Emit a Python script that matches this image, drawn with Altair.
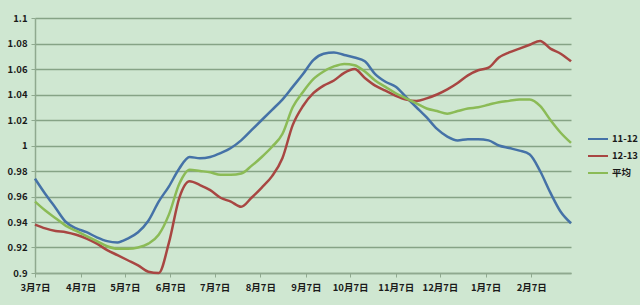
import altair as alt
import pandas as pd

# weekly dates, 2012-03-07 .. 2013-03-06
dates = [d.strftime("%Y-%m-%d") for d in pd.date_range("2012-03-07", periods=53, freq="7D")]

series_names = ["11-12", "12-13", "平均"]

s_1112 = [0.974, 0.962, 0.951, 0.940, 0.935, 0.932, 0.928, 0.925, 0.924, 0.927,
          0.932, 0.941, 0.956, 0.968, 0.982, 0.991, 0.990, 0.991, 0.994, 0.998,
          1.004, 1.012, 1.020, 1.028, 1.036, 1.046, 1.056, 1.067, 1.072, 1.073,
          1.071, 1.069, 1.066, 1.056, 1.050, 1.046, 1.038, 1.030, 1.022, 1.013,
          1.007, 1.004, 1.005, 1.005, 1.004, 1.000, 0.998, 0.996, 0.993, 0.980,
          0.963, 0.948, 0.939]

s_1213 = [0.938, 0.935, 0.933, 0.932, 0.930, 0.927, 0.923, 0.918, 0.914, 0.910,
          0.906, 0.901, 0.900, 0.924, 0.959, 0.972, 0.969, 0.965, 0.959, 0.956,
          0.952, 0.959, 0.967, 0.976, 0.990, 1.016, 1.031, 1.041, 1.047, 1.051,
          1.057, 1.060, 1.053, 1.047, 1.043, 1.039, 1.036, 1.035, 1.037, 1.040,
          1.044, 1.049, 1.055, 1.059, 1.061, 1.069, 1.073, 1.076, 1.079, 1.082,
          1.076, 1.072, 1.066]

s_avg = [0.956, 0.949, 0.943, 0.937, 0.933, 0.929, 0.925, 0.921, 0.919, 0.919,
         0.920, 0.923, 0.930, 0.946, 0.970, 0.981, 0.980, 0.979, 0.977, 0.977,
         0.978, 0.984, 0.991, 0.999, 1.009, 1.030, 1.042, 1.052, 1.058, 1.062,
         1.064, 1.063, 1.058, 1.051, 1.046, 1.041, 1.037, 1.033, 1.029, 1.027,
         1.025, 1.027, 1.029, 1.030, 1.032, 1.034, 1.035, 1.036, 1.036, 1.031,
         1.020, 1.010, 1.002]

y_ticks = [0.9, 0.92, 0.94, 0.96, 0.98, 1.0, 1.02, 1.04, 1.06, 1.08, 1.1]
month_ticks = [(2012, m) for m in range(3, 13)] + [(2013, 1), (2013, 2)]

colors = ["#4572a7", "#a84642", "#8bbb56"]

rows = []
for name, vals in zip(series_names, [s_1112, s_1213, s_avg]):
    for d, v in zip(dates, vals):
        rows.append({"date": d, "value": v, "series": name})
df = pd.DataFrame(rows)

FONT = "Noto Sans CJK SC"

chart = alt.Chart(df).mark_line(strokeWidth=2.5, interpolate="monotone").encode(
    x=alt.X("date:T",
            scale=alt.Scale(type="utc",
                            domain=[alt.DateTime(year=2012, month=3, date=7, utc=True),
                                    alt.DateTime(year=2013, month=3, date=6, utc=True)]),
            axis=alt.Axis(values=[alt.DateTime(year=y, month=m, date=7, utc=True) for y, m in month_ticks],
                          labelExpr="(utcmonth(datum.value)+1) + '月' + utcdate(datum.value) + '日'",
                          labelOverlap=False, labelFlush=False,
                          title=None, grid=False, domainColor="#8fa98f", domainWidth=1.5,
                          tickColor="#8fa98f", tickSize=4, labelPadding=5,
                          labelFont=FONT, labelFontSize=9.5, labelColor="#1a1a1a",
                          labelFontWeight="bold")),
    y=alt.Y("value:Q",
            scale=alt.Scale(domain=[0.9, 1.1], nice=False, zero=False),
            axis=alt.Axis(values=y_ticks, format=".3~g", title=None,
                          grid=True, gridColor="#86a386", gridWidth=1.5,
                          domainColor="#8fa98f", domainWidth=1.5,
                          tickColor="#8fa98f", tickSize=4, labelPadding=4,
                          labelOverlap=False, labelFlush=False,
                          labelFont=FONT, labelFontSize=9.5, labelColor="#1a1a1a",
                          labelFontWeight="bold")),
    color=alt.Color("series:N",
                    scale=alt.Scale(domain=series_names, range=colors),
                    legend=alt.Legend(title=None, orient="none", legendX=552, legendY=110,
                                      padding=0, offset=0,
                                      symbolType="stroke", symbolSize=400, symbolStrokeWidth=2,
                                      labelFont=FONT, labelFontSize=9.5, labelColor="#1a1a1a",
                                      labelFontWeight="bold", rowPadding=1, labelOffset=3)),
).properties(
    width=536, height=255,
    background="#cfe7d1",
    padding={"left": 35, "top": 18, "right": 69, "bottom": 32},
    autosize=alt.AutoSizeParams(type="none"),
).configure_view(stroke=None)

chart.save("out.html", embed_options={"renderer": "svg", "actions": False})
